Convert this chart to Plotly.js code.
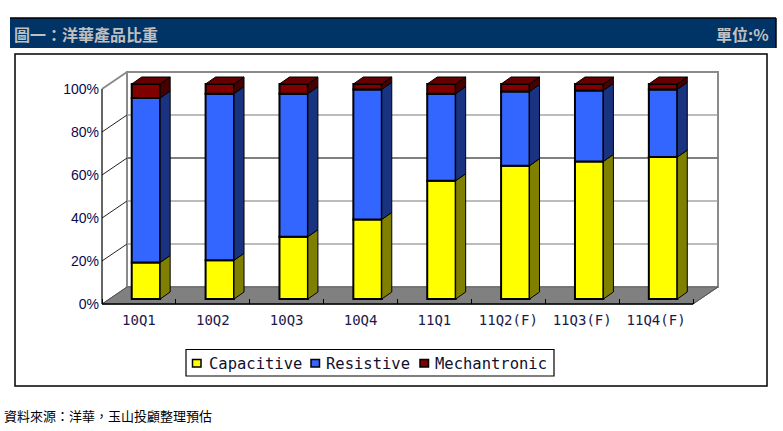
<!DOCTYPE html>
<html>
<head>
<meta charset="utf-8">
<script src="https://cdn.plot.ly/plotly-3.0.1.min.js"></script>
<style>html,body{margin:0;padding:0;background:#fff;}#chart{width:783px;height:431px;}</style>
</head>
<body>
<div id="chart"></div>
<script>
// ---- data ----
const categories = ["10Q1","10Q2","10Q3","10Q4","11Q1","11Q2(F)","11Q3(F)","11Q4(F)"];
const capacitive = [17, 18, 29, 37, 55, 62, 64, 66];
const resistive  = [76.5, 77.5, 66.5, 60.5, 40.5, 34.5, 33, 31.5];
const mechantronic = [6.5, 4.5, 4.5, 2.5, 4.5, 3.5, 3, 2.5];
const seriesNames = ["Capacitive","Resistive","Mechantronic"];
const yTickVals = [0,20,40,60,80,100];
const yTickText = ["0%","20%","40%","60%","80%","100%"];
const chartTitle = "圖一：洋華產品比重";
const unitText = "單位:%";
const sourceText = "資料來源：洋華，玉山投顧整理預估";

// ---- geometry / style ----
const W = 783, H = 431;
const px = x => x / W, py = y => 1 - y / H;
const X0PX = 102, UX = 73.875;   // front axis left pixel, px per category
const Y0PX = 304, UY = 2.15;     // front axis zero pixel, px per percent
const DX = 25 / UX, DY = 17 / UY;        // wall depth
const BX = 7 / UX, BY = 5 / UY;          // bar front plane offset
const dx = 10 / UX, dy = 7 / UY;         // bar depth
const BW = 0.385;                        // bar width
const n = categories.length;
const left = -0.5, right = n - 0.5;

const plotL = 96, plotR = 726, plotT = 64, plotB = 310;
const xRange = [left - (X0PX - plotL) / UX, left + (plotR - X0PX) / UX];
const yRange = [-(plotB - Y0PX) / UY, (Y0PX - plotT) / UY];

const frontCols = ["#ffff00", "#3366ff", "#800000"];
const sideCols  = ["#808000", "#1a3380", "#450000"];
const topCol = "#660000";
const values = [capacitive, resistive, mechantronic];

// ---- traces ----
const traces = [];
const xs = categories.map((c, i) => i + BX);
let cum = categories.map(() => BY);
values.forEach((vals, s) => {
  const base = cum.slice();
  traces.push({
    type: "bar", x: xs, y: vals, base: base, width: BW,
    name: seriesNames[s], showlegend: false, hoverinfo: "skip",
    marker: {color: frontCols[s], line: {color: "#000", width: 2}}
  });
  // side faces
  const sx = [], sy = [];
  vals.forEach((v, i) => {
    const xr = xs[i] + BW / 2, y0 = base[i], y1 = base[i] + v;
    sx.push(xr, xr + dx, xr + dx, xr, xr, null);
    sy.push(y0, y0 + dy, y1 + dy, y1, y0, null);
  });
  traces.push({
    type: "scatter", mode: "lines", x: sx, y: sy, fill: "toself",
    fillcolor: sideCols[s], line: {color: "#000", width: 1},
    showlegend: false, hoverinfo: "skip"
  });
  cum = cum.map((c, i) => c + vals[i]);
});
// top faces
const tx = [], ty = [];
cum.forEach((T, i) => {
  const xl = xs[i] - BW / 2, xr = xs[i] + BW / 2;
  tx.push(xl, xr, xr + dx, xl + dx, xl, null);
  ty.push(T, T, T + dy, T + dy, T, null);
});
traces.push({
  type: "scatter", mode: "lines", x: tx, y: ty, fill: "toself",
  fillcolor: topCol, line: {color: "#000", width: 1},
  showlegend: false, hoverinfo: "skip"
});
// dummy trace for label axis
traces.push({type: "scatter", mode: "markers", x: [0], y: [0], xaxis: "x2", yaxis: "y",
  marker: {opacity: 0}, showlegend: false, hoverinfo: "skip"});

// ---- shapes ----
const shapes = [];
const L = (x0, y0, x1, y1, color, width, extra) => Object.assign({
  type: "line", xref: "x", yref: "y", x0, y0, x1, y1, layer: "below",
  line: {color, width}}, extra || {});
const P = (x0, y0, x1, y1, color, width) => ({
  type: "line", xref: "paper", yref: "paper", x0: px(x0), y0: py(y0), x1: px(x1), y1: py(y1),
  line: {color, width}});
const R = (x0, y0, x1, y1, fill, lineColor, width) => ({
  type: "rect", xref: "paper", yref: "paper", x0: px(x0), y0: py(y1), x1: px(x1), y1: py(y0),
  fillcolor: fill, line: {color: lineColor, width}});

// header bar
shapes.push(R(10, 18, 776, 48, "#003366", "#003366", 0));
shapes.push(P(10, 18, 776, 18, "#000", 1.5));
shapes.push(P(776, 18, 776, 48, "#000", 1.5));
// chart frame
shapes.push(R(15, 54, 767, 386, "rgba(0,0,0,0)", "#000", 1.5));

// side wall
shapes.push({type: "path", xref: "x", yref: "y", layer: "below",
  path: `M${left},0 L${left},100 L${left + DX},${100 + DY} L${left + DX},${DY} Z`,
  fillcolor: "#ffffff", line: {width: 0}});
// back wall
shapes.push({type: "rect", xref: "x", yref: "y", layer: "below",
  x0: left + DX, x1: right + DX, y0: DY, y1: 100 + DY,
  fillcolor: "#ffffff", line: {color: "#8a8a8a", width: 2}});
// floor
shapes.push({type: "path", xref: "x", yref: "y", layer: "below",
  path: `M${left},0 L${right},0 L${right + DX},${DY} L${left + DX},${DY} Z`,
  fillcolor: "#808080", line: {color: "#666", width: 1}});
// back gridlines and side diagonals
[20, 40, 60, 80].forEach(v => {
  shapes.push(L(left + DX + 0.01, v + DY, right + DX - 0.01, v + DY, v === 60 ? "#000" : "#a6a6a6", v === 60 ? 1 : 1.5));
  shapes.push(L(left, v, left + DX, v + DY, "#222", 1));
});
shapes.push(L(left, 100, left + DX, 100 + DY, "#8a8a8a", 2));
shapes.push(L(left, 0, left + DX, DY, "#555", 1));
shapes.push(L(right, 0, right + DX, DY, "#555", 1));
// front axis lines
shapes.push(L(left, 0, left, 100, "#000", 1.2));
shapes.push(L(left, 0, right, 0, "#000", 1.5));

// legend
shapes.push(R(186, 349.5, 554, 376, "#ffffff", "#000", 1.2));
const legSw = [192.5, 311, 420];
const legTx = [208, 325, 434];
legSw.forEach((x, s) => shapes.push(R(x, 359.5, x + 8.5, 367, frontCols[s], "#000", 1.5)));

// ---- annotations ----
const ann = [];
const A = (x, y, text, anchor, font) => ({xref: "paper", yref: "paper", x: px(x), y: py(y),
  xanchor: anchor, yanchor: "middle", text, showarrow: false, font, borderpad: 0});
ann.push(A(13, 33.5, "<b>" + chartTitle + "</b>", "left", {family: "Noto Sans CJK TC", size: 16, color: "#c0c0c0"}));
ann.push(A(770, 33.5, "<b>" + unitText + "</b>", "right", {family: "Noto Sans CJK TC", size: 16, color: "#c0c0c0"}));
ann.push(A(3, 415.5, sourceText, "left", {family: "Noto Sans CJK TC", size: 13, color: "#000"}));
seriesNames.forEach((nm, s) => ann.push(A(legTx[s], 363.5, nm, "left",
  {family: "DejaVu Sans Mono", size: 15.5, color: "#101030"})));

const layout = {
  width: W, height: H, margin: {l: 0, r: 0, t: 0, b: 0},
  paper_bgcolor: "#ffffff", plot_bgcolor: "rgba(0,0,0,0)",
  barmode: "overlay", showlegend: false,
  xaxis: {domain: [px(plotL), px(plotR)], range: xRange, anchor: "free", position: py(Y0PX),
    tickvals: categories.map((c, i) => i - 0.5).concat([n - 0.5]),
    ticks: "inside", ticklen: 5, tickcolor: "#000", tickwidth: 1,
    showticklabels: false, showgrid: false, zeroline: false, showline: false, fixedrange: true},
  xaxis2: {overlaying: "x", domain: [px(plotL), px(plotR)], range: xRange, anchor: "free", position: py(Y0PX),
    tickvals: categories.map((c, i) => i), ticktext: categories, ticks: "", ticklabelstandoff: 6,
    tickfont: {family: "DejaVu Sans Mono", size: 14, color: "#1a1a4a"},
    showgrid: false, zeroline: false, showline: false, fixedrange: true},
  yaxis: {domain: [py(plotB), py(plotT)], range: yRange, anchor: "free", position: px(X0PX),
    tickvals: yTickVals, ticktext: yTickText, ticks: "", ticklabelstandoff: 3,
    tickfont: {family: "Liberation Sans", size: 14, color: "#0a0a50"},
    showgrid: false, zeroline: false, showline: false, fixedrange: true},
  shapes: shapes, annotations: ann
};

Plotly.newPlot("chart", traces, layout, {staticPlot: true, displayModeBar: false});
</script>
</body>
</html>
